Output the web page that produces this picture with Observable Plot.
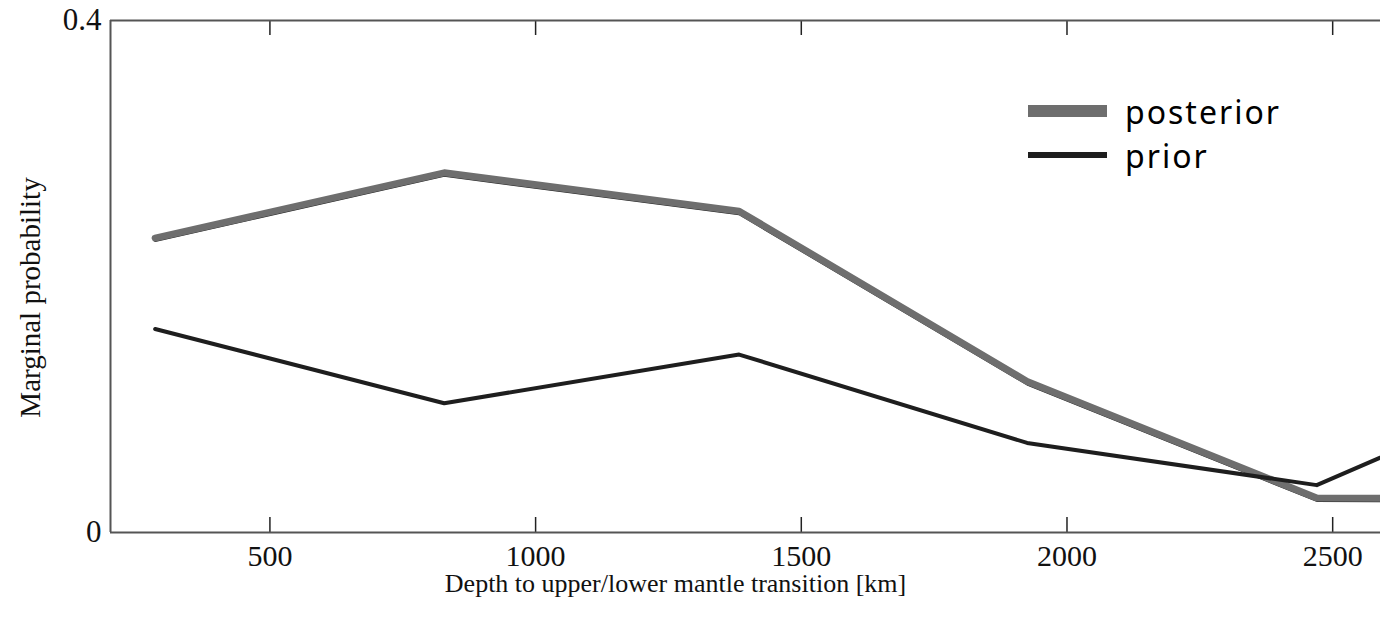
<!DOCTYPE html>
<html>
<head>
<meta charset="utf-8">
<script src="https://cdn.jsdelivr.net/npm/d3@7"></script>
<script src="https://cdn.jsdelivr.net/npm/@observablehq/plot@0.6"></script>
<style>
  html, body { margin: 0; padding: 0; background: #fff; overflow: hidden; }
  #wrap { position: relative; width: 1380px; height: 617px; }
  #legend { position: absolute; left: 1028px; top: 89px; font-family: "Noto Sans", "DejaVu Sans", sans-serif; font-size: 32px; letter-spacing: 2px; color: #000; }
  .row { display: flex; align-items: center; height: 44px; }
  .sw { width: 79px; margin-right: 18px; }
</style>
</head>
<body>
<div id="wrap">
  <div id="chart"></div>
  <div id="legend">
    <div class="row"><div class="sw" style="height:12px;background:#6e6e6e"></div>posterior</div>
    <div class="row"><div class="sw" style="height:6px;background:#1e1e1e"></div>prior</div>
  </div>
</div>
<script>
const depth = [284, 828, 1383, 1925, 2470, 3015];
const posterior = [0.230, 0.281, 0.251, 0.118, 0.027, 0.026];
const prior = [0.159, 0.101, 0.139, 0.070, 0.037, 0.135];
const xTicks = [500, 1000, 1500, 2000, 2500];
const yTicks = [0, 0.4];
const xDomain = [200, 2590];
const xLabel = "Depth to upper/lower mantle transition [km]";
const yLabel = "Marginal probability";

const postData = depth.map((d, i) => ({depth: d, p: posterior[i]}));
const priorData = depth.map((d, i) => ({depth: d, p: prior[i]}));

const serif = "Liberation Serif, DejaVu Serif, serif";
const chart = Plot.plot({
  width: 1380,
  height: 617,
  marginLeft: 110,
  marginRight: 0,
  marginTop: 20,
  marginBottom: 85,
  style: {fontFamily: serif, background: "#fff"},
  x: {domain: xDomain},
  y: {domain: [0, 0.4]},
  marks: [
    Plot.axisX({ticks: xTicks, tickSize: 0, tickPadding: 12, tickFormat: d => String(d), fontSize: 30, label: null, fill: "#111"}),
    Plot.axisY({ticks: yTicks, tickSize: 0, tickPadding: 9, tickFormat: d => d === 0 ? "0" : "0.4", fontSize: 31, label: null, fill: "#111"}),
    Plot.ruleX(xTicks, {insetTop: 497, stroke: "#222", strokeWidth: 1.5}),
    Plot.ruleX(xTicks, {insetBottom: 497, stroke: "#222", strokeWidth: 1.5}),
    Plot.line(postData, {x: "depth", y: "p", stroke: "#222", strokeWidth: 2, dy: 3, clip: true}),
    Plot.line(postData, {x: "depth", y: "p", stroke: "#6e6e6e", strokeWidth: 7, clip: true}),
    Plot.line(priorData, {x: "depth", y: "p", stroke: "#1e1e1e", strokeWidth: 4, clip: true}),
    Plot.ruleY(yTicks, {stroke: "#555", strokeWidth: 2}),
    Plot.ruleX([xDomain[0]], {stroke: "#555", strokeWidth: 2}),
    Plot.text([xLabel], {text: d => d, frameAnchor: "bottom", dx: -70, dy: 59, fontSize: 26, fill: "#111"}),
    Plot.text([yLabel], {text: d => d, frameAnchor: "left", textAnchor: "middle", rotate: -90, dx: -80, dy: 21, fontSize: 29, fill: "#111"})
  ]
});
document.getElementById("chart").appendChild(chart);
</script>
</body>
</html>
